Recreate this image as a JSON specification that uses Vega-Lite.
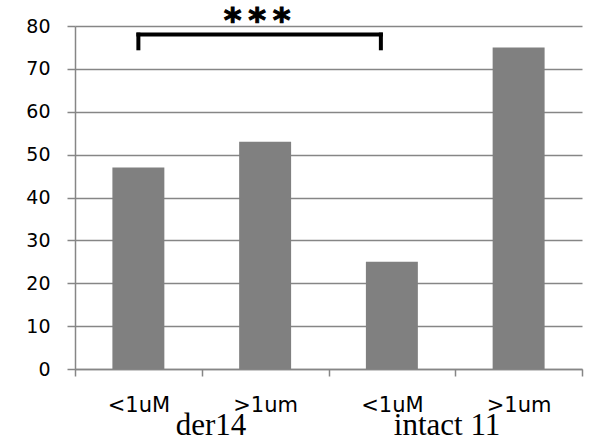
{
  "$schema": "https://vega.github.io/schema/vega-lite/v6.json",
  "width": 507,
  "height": 343,
  "autosize": {"type": "none"},
  "padding": {"left": 75, "top": 26, "right": 14, "bottom": 78},
  "config": {
    "view": {"stroke": null},
    "axis": {"labelColor": "#000000"}
  },
  "datasets": {
    "bars": [
      {"key": "c1", "label": "<1uM", "group": "der14", "value": 47},
      {"key": "c2", "label": ">1um", "group": "der14", "value": 53},
      {"key": "c3", "label": "<1uM", "group": "intact 11", "value": 25},
      {"key": "c4", "label": ">1um", "group": "intact 11", "value": 75}
    ],
    "bracketTop": [{"key": "c1", "key2": "c3", "value": 78}],
    "bracketLeft": [{"key": "c1", "value": 74.8, "value2": 78}],
    "bracketRight": [{"key": "c3", "value": 74.8, "value2": 78}],
    "stars": [{"key": "c2", "value": 78.6, "text": "*\u2009*\u2009*"}],
    "groups": [{"group": "der14"}, {"group": "intact 11"}]
  },
  "layer": [
    {
      "layer": [
        {
          "data": {"name": "bars"},
          "mark": {"type": "bar", "color": "#808080", "width": {"band": 0.41}},
          "encoding": {
            "x": {
              "field": "key",
              "type": "nominal",
              "title": null,
              "scale": {"domain": ["c1", "c2", "c3", "c4"], "paddingInner": 0, "paddingOuter": 0},
              "axis": {
                "orient": "bottom",
                "tickBand": "extent",
                "tickSize": 7,
                "tickColor": "#868686",
                "tickWidth": 1.5,
                "domainColor": "#868686",
                "domainWidth": 1.5,
                "grid": false,
                "labelAngle": 0,
                "labelFont": "DejaVu Sans",
                "labelFontSize": 21,
                "labelPadding": 18,
                "labelExpr": "(datum.value == 'c1' || datum.value == 'c3') ? '<1uM' : ((datum.value == 'c2' || datum.value == 'c4') ? '>1um' : '')"
              }
            },
            "y": {
              "field": "value",
              "type": "quantitative",
              "title": null,
              "scale": {"domain": [0, 80], "nice": false},
              "axis": {
                "values": [0, 10, 20, 30, 40, 50, 60, 70, 80],
                "domainColor": "#868686",
                "domainWidth": 1.5,
                "tickColor": "#868686",
                "tickWidth": 1.5,
                "tickSize": 8,
                "grid": true,
                "gridColor": "#868686",
                "gridWidth": 1.5,
                "labelFont": "DejaVu Sans",
                "labelFontSize": 19,
                "labelPadding": 17
              }
            }
          }
        },
        {
          "data": {"name": "bracketTop"},
          "mark": {"type": "rule", "color": "#000000", "strokeWidth": 4, "strokeCap": "square", "x2Offset": -11},
          "encoding": {
            "x": {"field": "key", "type": "nominal", "title": null},
            "x2": {"field": "key2"},
            "y": {"field": "value", "type": "quantitative", "title": null}
          }
        },
        {
          "data": {"name": "bracketLeft"},
          "mark": {"type": "rule", "color": "#000000", "strokeWidth": 4, "strokeCap": "square"},
          "encoding": {
            "x": {"field": "key", "type": "nominal", "title": null},
            "y": {"field": "value", "type": "quantitative", "title": null},
            "y2": {"field": "value2"}
          }
        },
        {
          "data": {"name": "bracketRight"},
          "mark": {"type": "rule", "color": "#000000", "strokeWidth": 4, "strokeCap": "square", "xOffset": -11},
          "encoding": {
            "x": {"field": "key", "type": "nominal", "title": null},
            "y": {"field": "value", "type": "quantitative", "title": null},
            "y2": {"field": "value2"}
          }
        },
        {
          "data": {"name": "stars"},
          "mark": {"type": "text", "font": "DejaVu Sans", "fontWeight": 900, "fontSize": 34, "baseline": "alphabetic", "align": "center", "xOffset": -8, "color": "#000000", "stroke": "#000000", "strokeWidth": 1},
          "encoding": {
            "x": {"field": "key", "type": "nominal", "title": null},
            "y": {"field": "value", "type": "quantitative", "title": null},
            "text": {"field": "text"}
          }
        }
      ]
    },
    {
      "data": {"name": "groups"},
      "mark": {"type": "point", "opacity": 0},
      "encoding": {
        "x": {
          "field": "group",
          "type": "nominal",
          "title": null,
          "scale": {"type": "point", "padding": 0.574},
          "axis": {
            "orient": "bottom",
            "domain": false,
            "ticks": false,
            "grid": false,
            "labelAngle": 0,
            "labelFont": "Liberation Serif",
            "labelFontSize": 31,
            "labelPadding": 41,
            "labelColor": "#000000"
          }
        }
      }
    }
  ],
  "resolve": {"scale": {"x": "independent"}}
}
